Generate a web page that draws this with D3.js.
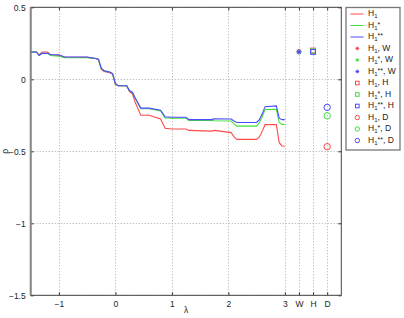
<!DOCTYPE html>
<html>
<head>
<meta charset="utf-8">
<script src="https://cdn.jsdelivr.net/npm/d3@7"></script>
<style>
  body { margin: 0; background: #fff; }
  svg { display: block; font-family: "Liberation Sans", Arial, sans-serif; }
  .tick text { font-size: 8.5px; fill: #222; }
  .grid line { stroke: #aaa; stroke-dasharray: 1,2; stroke-width: 1; }
  .legend text { font-size: 8.5px; fill: #222; }
</style>
</head>
<body>
<svg id="fig" width="404" height="318"></svg>
<script>
// lambda sample points and the three curves
const lambda = [-1.5, -1.4, -1.35, -1.3, -1.2, -1.15, -1.0, -0.9, -0.5, -0.35, -0.3, -0.25, -0.2, -0.1, -0.05,
                0, 0.05, 0.2, 0.25, 0.3, 0.35, 0.45, 0.6, 0.8, 0.88, 1.0, 1.25, 1.3, 1.7, 1.75, 2.05, 2.1,
                2.15, 2.5, 2.55, 2.6, 2.65, 2.85, 2.9, 2.95, 3.0]
const rhoH1 = [0.19, 0.19, 0.17, 0.19, 0.19, 0.17, 0.165, 0.155, 0.152, 0.145, 0.135, 0.07, 0.055, 0.045, 0.035,
               -0.035, -0.045, -0.045, -0.085, -0.1, -0.16, -0.25, -0.25, -0.275, -0.34, -0.345, -0.345, -0.355,
               -0.36, -0.355, -0.37, -0.4, -0.417, -0.417, -0.4, -0.36, -0.315, -0.315, -0.44, -0.463, -0.465]
const rhoH1s = [0.19, 0.19, 0.165, 0.18, 0.18, 0.165, 0.16, 0.15, 0.15, 0.145, 0.14, 0.075, 0.06, 0.05, 0.04,
                -0.03, -0.045, -0.045, -0.08, -0.09, -0.13, -0.205, -0.205, -0.22, -0.268, -0.27, -0.27, -0.285,
                -0.285, -0.288, -0.29, -0.31, -0.325, -0.325, -0.3, -0.26, -0.21, -0.208, -0.3, -0.313, -0.313]
const rhoH1ss = [0.19, 0.19, 0.165, 0.18, 0.18, 0.17, 0.17, 0.155, 0.155, 0.145, 0.14, 0.075, 0.06, 0.05, 0.04,
                 -0.03, -0.045, -0.045, -0.08, -0.09, -0.13, -0.2, -0.2, -0.215, -0.26, -0.264, -0.264, -0.28,
                 -0.28, -0.275, -0.276, -0.29, -0.3, -0.3, -0.28, -0.24, -0.19, -0.185, -0.27, -0.28, -0.28]

// single point estimates for W, H, D (order: H1, H1*, H1**)
const cats = ["W", "H", "D"]
const pointW = [0.195, 0.19, 0.19]
const pointH = [0.2, 0.195, 0.19]
const pointD = [-0.468, -0.253, -0.195]

const xTicks = [-1, 0, 1, 2, 3, 3.25, 3.5, 3.75]
const xTickLabels = ["\u22121", "0", "1", "2", "3", "W", "H", "D"]
const yTicks = [-1.5, -1, -0.5, 0, 0.5]
const yTickLabels = ["\u22121.5", "\u22121", "\u22120.5", "0", "0.5"]

const colors = ["#ff4a4a", "#3de03d", "#4a4aff"]
const sup = ["", "*", "**"]

const svg = d3.select("#fig")
const pLeft = 30.7, pRight = 341.3, pTop = 7.3, pBottom = 295.3

const x = d3.scaleLinear().domain([-1.5, 4]).range([pLeft, pRight])
const y = d3.scaleLinear().domain([-1.5, 0.5]).range([pBottom, pTop])
const catX = d3.scaleOrdinal().domain(cats).range([3.25, 3.5, 3.75])
const snap = v => Math.round(v) + 0.5

// grid (dotted)
const grid = svg.append("g").attr("class", "grid")
grid.selectAll(".gx").data(xTicks).join("line").attr("class", "gx")
    .attr("x1", d => snap(x(d))).attr("x2", d => snap(x(d))).attr("y1", pTop).attr("y2", pBottom)
grid.selectAll(".gy").data(yTicks).join("line").attr("class", "gy")
    .attr("x1", pLeft).attr("x2", pRight).attr("y1", d => snap(y(d))).attr("y2", d => snap(y(d)))

// axes (ticks inside, box on)
const xAxis = d3.axisBottom(x).tickValues(xTicks).tickFormat((d, i) => xTickLabels[i]).tickSize(-3).tickPadding(6)
const yAxis = d3.axisLeft(y).tickValues(yTicks).tickFormat((d, i) => yTickLabels[i]).tickSize(-3).tickPadding(5)
svg.append("g").attr("transform", `translate(0,${pBottom})`).call(xAxis)
    .call(g => g.select(".domain").remove())
svg.append("g").attr("transform", `translate(${pLeft},0)`).call(yAxis)
    .call(g => g.select(".domain").remove())
svg.append("g").attr("transform", `translate(0,${pTop})`)
    .call(d3.axisTop(x).tickValues(xTicks).tickFormat("").tickSize(-3))
    .call(g => g.select(".domain").remove())
svg.append("g").attr("transform", `translate(${pRight},0)`)
    .call(d3.axisRight(y).tickValues(yTicks).tickFormat("").tickSize(-3))
    .call(g => g.select(".domain").remove())
svg.selectAll(".tick line").attr("stroke", "#333")

svg.append("rect").attr("x", pLeft).attr("y", pTop)
    .attr("width", pRight - pLeft).attr("height", pBottom - pTop)
    .attr("fill", "none").attr("stroke", "#444").attr("stroke-width", 1)
svg.append("line").attr("x1", pLeft).attr("x2", pLeft).attr("y1", pTop).attr("y2", pBottom)
    .attr("stroke", "#888").attr("stroke-width", 2)

// curves
const series = [rhoH1, rhoH1s, rhoH1ss]
const line = d3.line().x((d, i) => x(lambda[i])).y(d => y(d))
svg.append("g").selectAll("path").data(series).join("path")
    .attr("d", d => line(d))
    .attr("fill", "none")
    .attr("stroke", (d, i) => colors[i])
    .attr("stroke-width", 1.1)

// marker shapes
function drawMarker(g, type, cx, cy, color, s) {
    if (type === "W") {
        for (let a = 0; a < 4; a++) {
            const ang = a * Math.PI / 4
            g.append("line")
                .attr("x1", cx - s * Math.cos(ang)).attr("y1", cy - s * Math.sin(ang))
                .attr("x2", cx + s * Math.cos(ang)).attr("y2", cy + s * Math.sin(ang))
                .attr("stroke", color).attr("stroke-width", 1)
        }
    } else if (type === "H") {
        g.append("rect").attr("x", cx - s).attr("y", cy - s)
            .attr("width", 2 * s).attr("height", 2 * s)
            .attr("fill", "none").attr("stroke", color).attr("stroke-width", 1)
    } else {
        g.append("circle").attr("cx", cx).attr("cy", cy).attr("r", s)
            .attr("fill", "none").attr("stroke", color).attr("stroke-width", 1)
    }
}

const points = [pointW, pointH, pointD]
const pts = svg.append("g")
cats.forEach((c, ci) => {
    points[ci].forEach((v, si) => {
        drawMarker(pts, c, x(catX(c)), y(v), colors[si], c === "W" ? 2.5 : (c === "H" ? 2.4 : 3.2))
    })
})

// axis labels
svg.append("text").attr("x", (pLeft + pRight) / 2).attr("y", 313)
    .attr("text-anchor", "middle").attr("font-size", 8.5).attr("fill", "#222").text("\u03bb")
svg.append("text").attr("transform", `translate(8,${y(-0.5)}) rotate(-90)`)
    .attr("text-anchor", "middle").attr("font-size", 8.5).attr("fill", "#222").text("\u03c1")

// legend
const legendItems = []
for (let s = 0; s < 3; s++) legendItems.push({ kind: "line", s: s, tag: "" })
cats.forEach(c => { for (let s = 0; s < 3; s++) legendItems.push({ kind: c, s: s, tag: ", " + c }) })

const lg = svg.append("g").attr("class", "legend")
lg.append("rect").attr("x", 346).attr("y", 7.5).attr("width", 54).attr("height", 142.5)
    .attr("fill", "#fff").attr("stroke", "#777").attr("stroke-width", 1.3)
const items = lg.selectAll(".item").data(legendItems).join("g")
    .attr("transform", (d, i) => `translate(0,${14 + i * 11.5})`)
items.each(function (d) {
    const g = d3.select(this)
    if (d.kind === "line") {
        g.append("line").attr("x1", 350.5).attr("x2", 363.5).attr("y1", 0).attr("y2", 0)
            .attr("stroke", colors[d.s]).attr("stroke-width", 1)
    } else {
        drawMarker(g, d.kind, 357.3, 0, colors[d.s], d.kind === "W" ? 1.8 : (d.kind === "H" ? 1.8 : 2.2))
    }
    // H_1 with optional superscript stars, then the tag
    const t = g.append("text").attr("x", 368).attr("y", 2)
    t.append("tspan").text("H")
    t.append("tspan").attr("font-size", 6).attr("baseline-shift", -2).text("1")
    if (sup[d.s]) t.append("tspan").attr("font-size", 7).attr("baseline-shift", 1).text(sup[d.s])
    if (d.tag) t.append("tspan").text(d.tag)
})
</script>
</body>
</html>
